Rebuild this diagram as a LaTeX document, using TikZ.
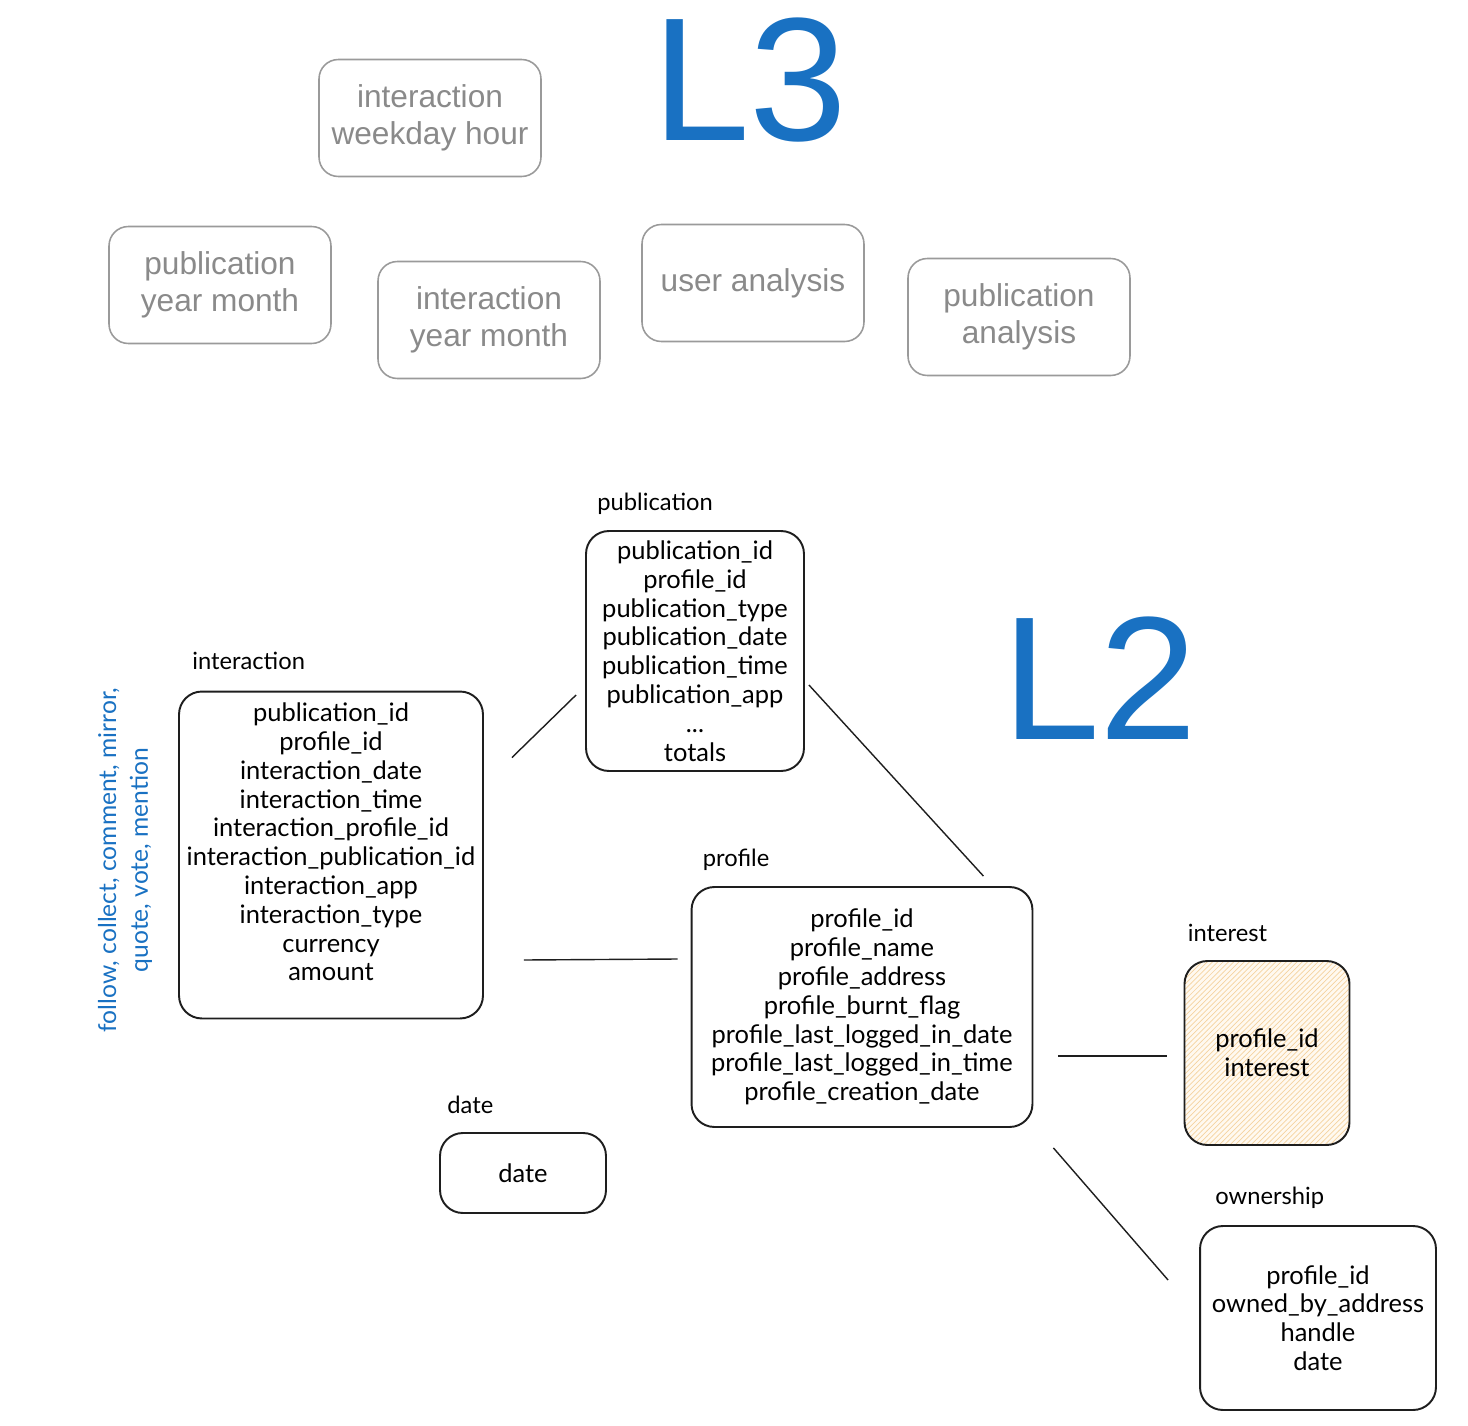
\documentclass[tikz,border=0pt]{standalone}
\usepackage{fontspec}
\setmainfont{Liberation Sans}
\newfontfamily\handfont{Lato}
\usetikzlibrary{positioning,patterns}
\usepackage{xcolor}
\definecolor{ink}{RGB}{30,30,30}
\definecolor{layerblue}{HTML}{1971C2}
\definecolor{greytext}{HTML}{8A8A8A}
\definecolor{greyline}{HTML}{9A9A9A}
\definecolor{hatchbg}{HTML}{FFF9F0}
\definecolor{hatch}{HTML}{F5D3A0}

\begin{document}
\begin{tikzpicture}[
  x=0.02cm, y=-0.02cm,
  view/.style={draw=greyline, line width=0.9pt, rounded corners=11pt,
    text=greytext, align=center, font=\fontsize{18}{21}\selectfont,
    minimum width=4.44cm, minimum height=2.34cm, inner sep=0pt},
  table/.style={draw=ink, line width=1.1pt, rounded corners=13pt,
    align=center, inner sep=2pt, font=\handfont\fontsize{14.5}{16.4}\selectfont},
  fields/.style={align=center, inner sep=0pt, font=\handfont\fontsize{14.5}{16.4}\selectfont},
  title/.style={anchor=base west, inner sep=0pt, font=\handfont\fontsize{13.5}{16}\selectfont},
  layer/.style={text=layerblue, inner sep=0pt, font=\fontsize{100}{100}\selectfont},
  link/.style={draw=ink, line width=0.8pt}
]
  \useasboundingbox (0,0) rectangle (1468,1426);

  % L3: analysis views
  \node[layer] (l3) at (750,80) {L3};
  \node[view] (weekday) at (430,118) {interaction\\weekday hour};
  \node[view] (pubmonth) at (220,285) {publication\\year month};
  \node[view] (intmonth) at (489,320) {interaction\\year month};
  \node[view] (useran) at (753,283) {user analysis};
  \node[view] (puban) at (1019,317) {publication\\analysis};

  % L2: tables
  \node[layer] (l2) at (1100,678) {L2};
  \node[table, minimum width=4.36cm, minimum height=4.8cm] (publication) at (695,651)
    {publication\_id\\profile\_id\\publication\_type\\publication\_date\\publication\_time\\publication\_app\\...\\totals};
  \node[table, minimum width=6.08cm, minimum height=6.54cm] (interaction) at (331,855) {};
  \node[fields] (interaction-fields) at ([yshift=0.26cm]interaction.center)
    {publication\_id\\profile\_id\\interaction\_date\\interaction\_time\\interaction\_profile\_id\\interaction\_publication\_id\\interaction\_app\\interaction\_type\\currency\\amount};
  \node[table, minimum width=6.82cm, minimum height=4.8cm] (profile) at (862,1007)
    {profile\_id\\profile\_name\\profile\_address\\profile\_burnt\_flag\\profile\_last\_logged\_in\_date\\profile\_last\_logged\_in\_time\\profile\_creation\_date};
  \node[table, minimum width=3.3cm, minimum height=3.68cm, preaction={fill=hatchbg},
    preaction={pattern=north east lines, pattern color=hatch}] (interest) at (1267,1053)
    {profile\_id\\interest};
  \node[table, minimum width=4.72cm, minimum height=3.68cm] (ownership) at (1318,1318)
    {profile\_id\\owned\_by\_address\\handle\\date};
  \node[table, minimum width=3.32cm, minimum height=1.6cm] (date) at (523,1173) {date};

  % table names
  \node[title] (publication-title) at ([shift={(12,-20)}]publication.north west) {publication};
  \node[title] (interaction-title) at ([shift={(14,-21)}]interaction.north west) {interaction};
  \node[title] (profile-title) at ([shift={(12,-20)}]profile.north west) {profile};
  \node[title] (interest-title) at ([shift={(4,-19)}]interest.north west) {interest};
  \node[title] (ownership-title) at ([shift={(16,-21)}]ownership.north west) {ownership};
  \node[title] (date-title) at ([shift={(8,-19)}]date.north west) {date};

  % interaction types
  \node[rotate=90, text=layerblue, align=center, inner sep=0pt,
    font=\handfont\fontsize{14}{18}\selectfont] (types) at (125,860)
    {follow, collect, comment, mirror,\\quote, vote, mention};

  % relations
  \draw[link] ([shift={(28,67)}]interaction.north east) -- ([shift={(-9,44)}]publication.west);
  \draw[link] ([shift={(4,34)}]publication.east) -- ([shift={(-50,-10)}]profile.north east);
  \draw[link] ([shift={(40,105)}]interaction.east) -- ([shift={(-13,-48)}]profile.west);
  \draw[link] ([shift={(25,49)}]profile.east) -- ([shift={(-17,3)}]interest.west);
  \draw[link] ([shift={(20,20)}]profile.south east) -- ([shift={(-31,-38)}]ownership.west);
\end{tikzpicture}
\end{document}
